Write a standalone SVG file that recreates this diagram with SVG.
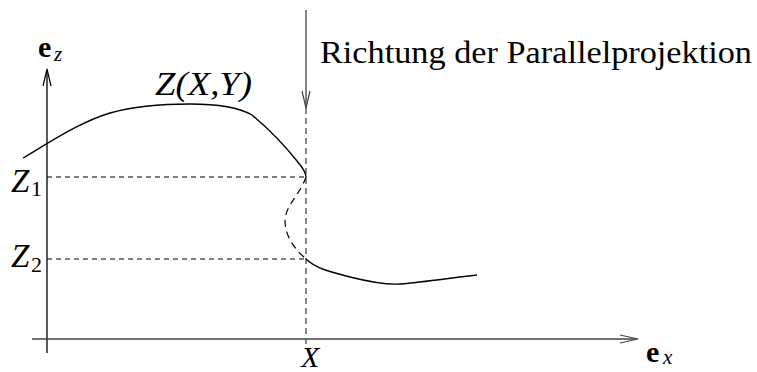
<svg xmlns="http://www.w3.org/2000/svg" width="757" height="372" viewBox="0 0 757 372">
<defs>
<style>
.t{font-family:"Liberation Serif","Times New Roman",serif;fill:#000}
.i{font-style:italic}
.b{font-weight:bold}
.ax{stroke:#000;stroke-width:1.3;fill:none}
.ah{stroke:#000;stroke-width:1.2;fill:none}
.dash{stroke:#000;stroke-width:1.2;stroke-dasharray:5,4;fill:none}
.curve{stroke:#000;stroke-width:1.4;fill:none}
</style>
</defs>
<g id="axes">
<line class="ax" x1="47" y1="353" x2="47" y2="70" stroke="#111"/>
<polyline class="ah" points="43,86 47,69 51,86"/>
<line class="ax" x1="32" y1="339" x2="637" y2="339" style="stroke:#444"/>
<polyline class="ah" points="620,335 638,339 620,343" style="stroke:#444"/>
</g>
<g id="connectors">
<line class="dash" x1="47" y1="177" x2="306" y2="177"/>
<line class="dash" x1="47" y1="259" x2="306" y2="259"/>
<line x1="306" y1="10" x2="306" y2="108" stroke="#444" stroke-width="1.3"/>
<polyline class="ah" points="302,91 306,108 310,91" style="stroke:#444"/>
<line x1="306" y1="108" x2="306" y2="346" stroke="#555" stroke-width="1.4" stroke-dasharray="6,4"/>
</g>
<g id="curve">
<path class="curve" d="M23,158 C50,142 80,122 110,113 C135,106 160,104 190,104 C220,104 240,108 252,115 C270,130 285,146 297,161 C303,168 306,173 306,177"/>
<path class="dash" d="M306,177 C300,195 285,205 285,222 C286,240 298,252 306,259" style="stroke-dasharray:7,5"/>
<path class="curve" d="M306,259 C315,268 330,272 350,277 C370,282 385,285 400,284 C425,282 450,278 477,275"/>
</g>
<g id="labels">
<text class="t b" x="38" y="57" font-size="30">e</text>
<text class="t i" x="54" y="61" font-size="21">z</text>
<text class="t i" x="155" y="95" font-size="34" textLength="97" lengthAdjust="spacingAndGlyphs">Z(X,Y)</text>
<text class="t" x="320" y="63" font-size="32" textLength="432" lengthAdjust="spacingAndGlyphs">Richtung der Parallelprojektion</text>
<text class="t i" x="11" y="192" font-size="33">Z</text>
<text class="t" x="31" y="196" font-size="22">1</text>
<text class="t i" x="11" y="267" font-size="33">Z</text>
<text class="t" x="31" y="272" font-size="22">2</text>
<text class="t i" x="301" y="367" font-size="30">X</text>
<text class="t b" x="646" y="362" font-size="30">e</text>
<text class="t i" x="663" y="364" font-size="21">x</text>
</g>
</svg>
